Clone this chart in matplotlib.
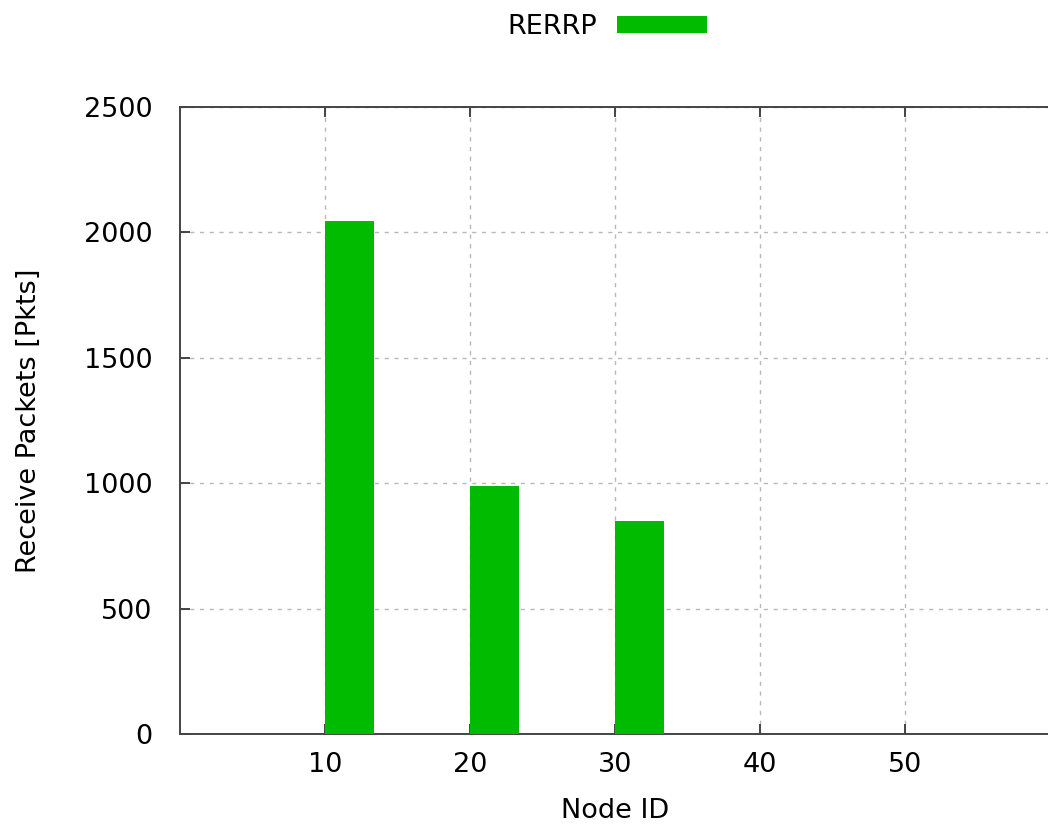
import matplotlib
matplotlib.use("Agg")
import matplotlib.pyplot as plt

# Received packet counts per node
node_ids = [10, 20, 30]
received = [2044, 987, 848]
series_name = "RERRP"
x_ticks = [10, 20, 30, 40, 50]
y_ticks = [0, 500, 1000, 1500, 2000, 2500]

plt.rcParams['font.family'] = ['DejaVu Sans']

W, H = 1048, 827
FS = 19.5
fig = plt.figure(figsize=(W / 100, H / 100), dpi=100)
ax = fig.add_axes([180 / W, (H - 734) / H, 870 / W, 627 / H])

bar_color = '#00bb00'
ax.bar(node_ids, received, width=3.35, align='edge', color=bar_color,
       label=series_name, zorder=3)

ax.set_xlim(0, 60)
ax.set_ylim(0, 2500)
ax.set_xticks(x_ticks)
ax.set_yticks(y_ticks)

axis_col = '#444444'
for side in ('left', 'bottom', 'top'):
    ax.spines[side].set_color(axis_col)
    ax.spines[side].set_linewidth(1.4)
ax.spines['right'].set_visible(False)

ax.tick_params(axis='x', direction='in', length=7, width=1.4, color=axis_col,
               top=True, labelsize=FS, pad=13)
ax.tick_params(axis='y', direction='in', length=7, width=1.4, color=axis_col,
               labelsize=FS, pad=20)

ax.grid(True, color='#b8b8b8', linestyle=(0, (3, 4)), linewidth=1.0, zorder=0)
ax.set_axisbelow(True)

ax.set_xlabel("Node ID", fontsize=FS, labelpad=14)
ax.set_ylabel("Receive Packets [Pkts]", fontsize=FS, labelpad=30)

fig.legend(loc='center', bbox_to_anchor=(607 / W, 1 - 27 / H), frameon=False,
           markerfirst=False, fontsize=FS, handlelength=3.3, handleheight=0.55,
           handletextpad=0.75, borderpad=0)

fig.savefig("out.png", dpi=100, facecolor='white')
